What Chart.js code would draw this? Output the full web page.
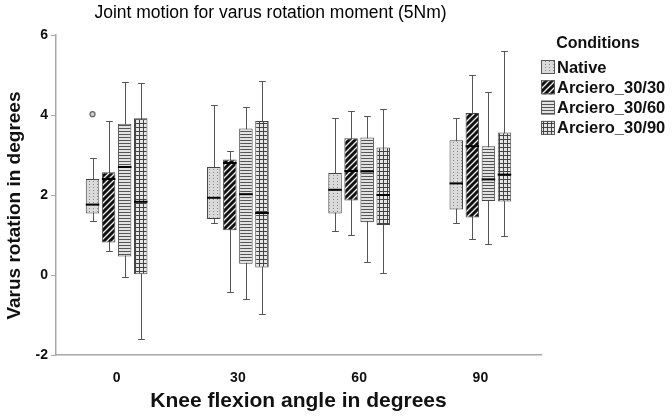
<!DOCTYPE html>
<html lang="en">
<head>
  <meta charset="UTF-8">
  <title>Joint motion for varus rotation moment</title>
  <script src="https://cdn.jsdelivr.net/npm/chart.js"></script>
  <style>
    body { margin: 0; background: #fff; }
    #wrap { width: 672px; height: 418px; }
  </style>
</head>
<body>
  <div id="wrap"><canvas id="boxChart" width="672" height="418"></canvas></div>
  <script>
    const angles = ['0', '30', '60', '90'];
    const conditions = ['Native', 'Arciero_30/30', 'Arciero_30/60', 'Arciero_30/90'];
    // each entry: [min, q1, median, q3, max] for one angle
    const nativeBox = [[1.34, 1.54, 1.76, 2.40, 2.93], [1.31, 1.40, 1.93, 2.70, 4.24], [1.11, 1.54, 2.13, 2.55, 3.92], [1.31, 1.64, 2.29, 3.37, 3.93]];
    const a3030Box = [[0.61, 0.81, 2.40, 2.57, 3.85], [-0.42, 1.12, 2.80, 2.89, 3.09], [1.01, 1.86, 2.60, 3.42, 4.10], [0.90, 1.44, 3.22, 4.05, 5.00]];
    const a3060Box = [[-0.06, 0.46, 2.70, 3.78, 4.83], [-0.59, 0.28, 2.02, 3.66, 4.21], [0.32, 1.32, 2.59, 3.44, 3.98], [0.77, 1.85, 2.39, 3.22, 4.58]];
    const a3090Box = [[-1.60, 0.02, 1.83, 3.92, 4.80], [-0.98, 0.19, 1.55, 3.85, 4.85], [0.05, 1.25, 2.00, 3.19, 4.15], [0.97, 1.84, 2.51, 3.56, 5.61]];
    const nativeOutliers = [[4.02], [], [], []];
    const yTicks = [-2, 0, 2, 4, 6];

    const FONT = '"Liberation Sans", Arial, sans-serif';

    // fill patterns like the SPSS output
    function makePattern(w, h, draw) {
      const c = document.createElement('canvas');
      c.width = w; c.height = h;
      const g = c.getContext('2d');
      draw(g, w, h);
      return g.createPattern(c, 'repeat');
    }
    const patterns = [
      makePattern(4, 3, (g) => {
        g.fillStyle = '#dadada'; g.fillRect(0, 0, 4, 3);
        g.fillStyle = '#8a8a8a'; g.fillRect(1, 1, 1, 1);
      }),
      makePattern(6, 6, (g) => {
        g.fillStyle = '#111'; g.fillRect(0, 0, 6, 6);
        g.strokeStyle = '#f0f0f0'; g.lineWidth = 1.3;
        g.beginPath();
        g.moveTo(-1, 7); g.lineTo(7, -1);
        g.moveTo(-1, 1); g.lineTo(1, -1);
        g.moveTo(5, 7); g.lineTo(7, 5);
        g.stroke();
      }),
      makePattern(4, 3, (g) => {
        g.fillStyle = '#e2e2e2'; g.fillRect(0, 0, 4, 3);
        g.fillStyle = '#555'; g.fillRect(0, 2, 4, 1);
      }),
      makePattern(4, 4, (g) => {
        g.fillStyle = '#e6e6e6'; g.fillRect(0, 0, 4, 4);
        g.fillStyle = '#444'; g.fillRect(0, 3, 4, 1); g.fillRect(3, 0, 1, 4);
      })
    ];
    const stats = [nativeBox, a3030Box, a3060Box, a3090Box];
    const outliers = [nativeOutliers, [[], [], [], []], [[], [], [], []], [[], [], [], []]];

    // whiskers under the boxes, medians and outliers on top
    const boxPlugin = {
      id: 'boxParts',
      beforeDatasetsDraw(chart) {
        const ctx = chart.ctx, y = chart.scales.y;
        ctx.save();
        ctx.strokeStyle = '#555';
        ctx.lineWidth = 1;
        chart.data.datasets.forEach((ds, di) => {
          chart.getDatasetMeta(di).data.forEach((bar, i) => {
            const s = stats[di][i];
            const x = Math.round(bar.x) + 0.5;
            const cap = bar.width * 0.25;
            const yMin = Math.round(y.getPixelForValue(s[0])) + 0.5;
            const yMax = Math.round(y.getPixelForValue(s[4])) + 0.5;
            ctx.beginPath();
            ctx.moveTo(x, yMax); ctx.lineTo(x, yMin);
            ctx.moveTo(x - cap, yMax); ctx.lineTo(x + cap, yMax);
            ctx.moveTo(x - cap, yMin); ctx.lineTo(x + cap, yMin);
            ctx.stroke();
          });
        });
        ctx.restore();
      },
      afterDatasetsDraw(chart) {
        const ctx = chart.ctx, y = chart.scales.y;
        ctx.save();
        chart.data.datasets.forEach((ds, di) => {
          chart.getDatasetMeta(di).data.forEach((bar, i) => {
            const s = stats[di][i];
            const ym = y.getPixelForValue(s[2]);
            ctx.strokeStyle = '#000';
            ctx.lineWidth = 2;
            ctx.beginPath();
            ctx.moveTo(bar.x - bar.width / 2, ym);
            ctx.lineTo(bar.x + bar.width / 2, ym);
            ctx.stroke();
            outliers[di][i].forEach(v => {
              ctx.beginPath();
              ctx.arc(bar.x, y.getPixelForValue(v), 2.5, 0, Math.PI * 2);
              ctx.fillStyle = '#ccc';
              ctx.fill();
              ctx.lineWidth = 1.2;
              ctx.strokeStyle = '#666';
              ctx.stroke();
            });
          });
        });
        ctx.restore();
      },
      afterDraw(chart) {
        const ctx = chart.ctx;
        ctx.save();
        ctx.fillStyle = '#111';
        ctx.font = 'bold 16px ' + FONT;
        ctx.textAlign = 'center';
        ctx.textBaseline = 'middle';
        ctx.fillText('Conditions', 598, 44);
        ctx.font = 'bold 16.5px ' + FONT;
        ctx.textAlign = 'left';
        conditions.forEach((name, k) => {
          const cy = 67 + k * 20.3;
          ctx.fillStyle = patterns[k];
          ctx.fillRect(541, cy - 7, 14, 14);
          ctx.strokeStyle = '#555';
          ctx.lineWidth = 1;
          ctx.strokeRect(541.5, cy - 6.5, 13, 13);
          ctx.fillStyle = '#111';
          ctx.fillText(name, 557, cy + 1);
        });
        ctx.restore();
      }
    };

    const datasets = conditions.map((name, k) => ({
      label: name,
      data: stats[k].map(s => [s[1], s[3]]),
      backgroundColor: patterns[k],
      borderColor: '#444',
      borderWidth: 1,
      borderSkipped: false,
      categoryPercentage: 0.53,
      barPercentage: 0.84
    }));

    new Chart(document.getElementById('boxChart').getContext('2d'), {
      type: 'bar',
      data: { labels: angles, datasets: datasets },
      plugins: [boxPlugin],
      options: {
        responsive: false,
        animation: false,
        layout: { padding: { left: 0, right: 131, top: 0, bottom: 0 } },
        plugins: {
          legend: { display: false },
          tooltip: { enabled: false },
          title: {
            display: true,
            text: 'Joint motion for varus rotation moment (5Nm)',
            color: '#000',
            font: { family: FONT, size: 17.5, weight: 'normal' },
            padding: { top: 3, bottom: 11 }
          }
        },
        scales: {
          x: {
            grid: { display: false },
            border: { color: '#a8a8a8', width: 1.5 },
            ticks: { color: '#111', padding: 7, font: { family: FONT, size: 14, weight: 'bold' } },
            title: {
              display: true,
              text: 'Knee flexion angle in degrees',
              color: '#111',
              font: { family: FONT, size: 21, weight: 'bold' },
              padding: { top: 0, bottom: 4 }
            },
            afterFit: s => { s.height = 63; }
          },
          y: {
            min: -2,
            max: 6,
            afterBuildTicks: s => { s.ticks = yTicks.map(v => ({ value: v })); },
            grid: { drawOnChartArea: false, tickLength: 5, color: '#a8a8a8' },
            border: { color: '#a8a8a8', width: 1.5 },
            ticks: { color: '#111', padding: 3, font: { family: FONT, size: 14, weight: 'bold' } },
            title: {
              display: true,
              // trailing spaces nudge the rotated title a little lower, as in the source
              text: 'Varus rotation in degrees    ',
              color: '#111',
              font: { family: FONT, size: 19, weight: 'bold' },
              padding: { top: 3, bottom: 0 }
            },
            afterFit: s => { s.width = 56; }
          }
        }
      }
    });
  </script>
</body>
</html>
